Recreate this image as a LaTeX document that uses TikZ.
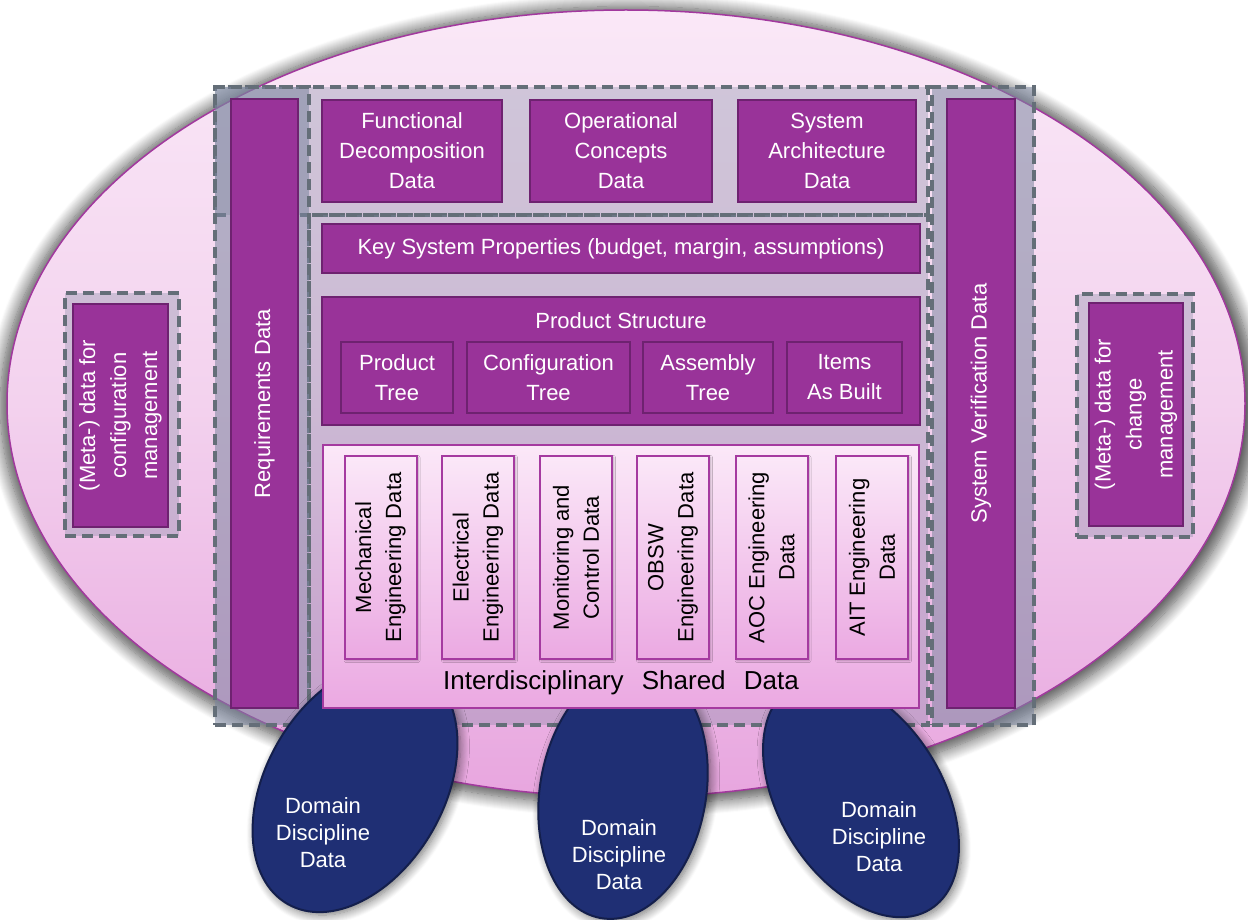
\documentclass[tikz,border=0pt]{standalone}
\usepackage{fontspec}
\setmainfont{Liberation Sans}
\usetikzlibrary{shapes.geometric,shadows.blur}
\definecolor{pfill}{HTML}{993399}
\definecolor{pdraw}{HTML}{6E2270}
\definecolor{frameC}{HTML}{7B869F}
\definecolor{frameD}{HTML}{646E78}
\definecolor{navy}{HTML}{1F2F74}
\definecolor{navyD}{HTML}{141F4C}
\definecolor{ellT}{HTML}{FAE8F7}
\definecolor{ellM}{HTML}{F3D2EE}
\definecolor{ellB}{HTML}{E8A6DF}
\definecolor{ellD}{HTML}{A2399E}
\definecolor{isdT}{HTML}{FBE8F8}
\definecolor{isdB}{HTML}{EBA9E2}
\definecolor{isdD}{HTML}{A53AA0}
\begin{document}
\begin{tikzpicture}[x=1pt,y=-1pt,
  every node/.style={font=\fontsize{22}{30}\selectfont, inner sep=0pt, outer sep=0pt},
  dframe/.style={rectangle, draw=frameD, line width=3.5pt, dash pattern=on 11pt off 6pt, fill=frameC, fill opacity=0.32},
  pbox/.style={rectangle, draw=pdraw, line width=2.5pt, fill=pfill, text=white, align=center},
  colbox/.style={rectangle, draw=isdD, line width=2pt, top color=isdT, bottom color=isdB, align=center, rotate=90, minimum width=203pt, minimum height=72pt,
    blur shadow={shadow xshift=1.5pt, shadow yshift=-1.5pt, shadow blur radius=2pt, shadow opacity=30}},
  domainell/.style={ellipse, draw=navyD, line width=2pt, fill=navy, blur shadow={shadow xshift=3pt, shadow yshift=-3pt, shadow blur radius=9pt, shadow blur steps=10, shadow opacity=55}},
  dtext/.style={text=white, align=center, font=\fontsize{22}{27}\selectfont},
  metabox/.style={pbox, rotate=90, minimum width=223pt, minimum height=95pt, font=\fontsize{22}{31}\selectfont}]
\useasboundingbox (0,0) rectangle (1248,920);

% background ellipse
\node[ellipse, minimum width=1238pt, minimum height=787pt, draw=ellD, line width=1.5pt,
  top color=ellT, bottom color=ellB, middle color=ellM,
  blur shadow={shadow xshift=2pt, shadow yshift=-2pt, shadow scale=1.014, shadow blur radius=13pt, shadow blur steps=14, shadow opacity=70}] (bg) at (626,403.5) {};

% dashed frames
\node[dframe, minimum width=713pt, minimum height=128pt] (topF) at (571.5,151) {};
\node[dframe, minimum width=619pt, minimum height=510pt] (midF) at (618.5,470) {};
\node[dframe, fill opacity=0.54, minimum width=94pt, minimum height=638pt] (reqF) at (262,406) {};
\node[dframe, fill opacity=0.54, minimum width=102pt, minimum height=638pt] (verF) at (983,406) {};
\node[dframe, minimum width=114pt, minimum height=243pt] (metaLF) at (122,414.5) {};
\node[dframe, minimum width=116pt, minimum height=243pt] (metaRF) at (1135,415.5) {};

% domain discipline ellipses
\node[domainell, minimum width=270pt, minimum height=178pt, rotate=60] (d1) at (355,787) {};
\node[domainell, minimum width=256pt, minimum height=166pt, rotate=80] (d2) at (623,792) {};
\node[domainell, minimum width=262pt, minimum height=163pt, rotate=122] (d3) at (861,798) {};
\node[dtext] (d1t) at (323,833) {Domain\\Discipline\\Data};
\node[dtext] (d2t) at (619,855) {Domain\\Discipline\\Data};
\node[dtext] (d3t) at (879,837) {Domain\\Discipline\\Data};

% side columns
\node[pbox, rotate=90, minimum width=609pt, minimum height=67pt] (req) at (264.5,403.5) {Requirements Data};
\node[pbox, rotate=90, minimum width=609pt, minimum height=68pt] (ver) at (981,403.5) {System Verification Data};
\node[metabox] (metaL) at (120.5,415.5) {(Meta-) data for\\configuration\\management};
\node[metabox, minimum height=94pt] (metaR) at (1136,414.5) {(Meta-) data for\\change\\management};

% top row
\node[pbox, minimum width=180pt, minimum height=102pt] (fd) at (412,151) {Functional\\Decomposition\\Data};
\node[pbox, minimum width=182pt, minimum height=102pt] (oc) at (621,151) {Operational\\Concepts\\Data};
\node[pbox, minimum width=178pt, minimum height=102pt] (sa) at (827,151) {System\\Architecture\\Data};

% key system properties
\node[pbox, minimum width=598pt, minimum height=49pt] (ksp) at (621,248.5) {Key System Properties (budget, margin, assumptions)};

% product structure
\node[pbox, minimum width=598pt, minimum height=128pt] (ps) at (621,361) {};
\node[text=white] (pst) at (621,321) {Product Structure};
\node[pbox, minimum width=112pt, minimum height=71pt] (ptree) at (397,377.5) {Product\\Tree};
\node[pbox, minimum width=163pt, minimum height=71pt] (ctree) at (548.5,377.5) {Configuration\\Tree};
\node[pbox, minimum width=130pt, minimum height=71pt] (atree) at (708,377.5) {Assembly\\Tree};
\node[pbox, minimum width=115pt, minimum height=71pt] (ibuilt) at (844.5,377.5) {Items\\As Built};

% interdisciplinary shared data
\node[rectangle, draw=isdD, line width=2pt, top color=isdT, bottom color=isdB, minimum width=596pt, minimum height=263pt] (isd) at (621,576.5) {};
\node[font=\fontsize{26}{30}\selectfont] (isdt) at (621,683) {Interdisciplinary\hspace{0.7em}Shared\hspace{0.7em}Data};
\node[colbox] (c1) at (380.5,557.5) {Mechanical\\Engineering Data};
\node[colbox] (c2) at (478,557.5) {Electrical\\Engineering Data};
\node[colbox] (c3) at (576,557.5) {Monitoring and\\Control Data};
\node[colbox] (c4) at (673,557.5) {OBSW\\Engineering Data};
\node[colbox] (c5) at (771.5,557.5) {AOC Engineering\\Data};
\node[colbox] (c6) at (872,557.5) {AIT Engineering\\Data};
\end{tikzpicture}
\end{document}
